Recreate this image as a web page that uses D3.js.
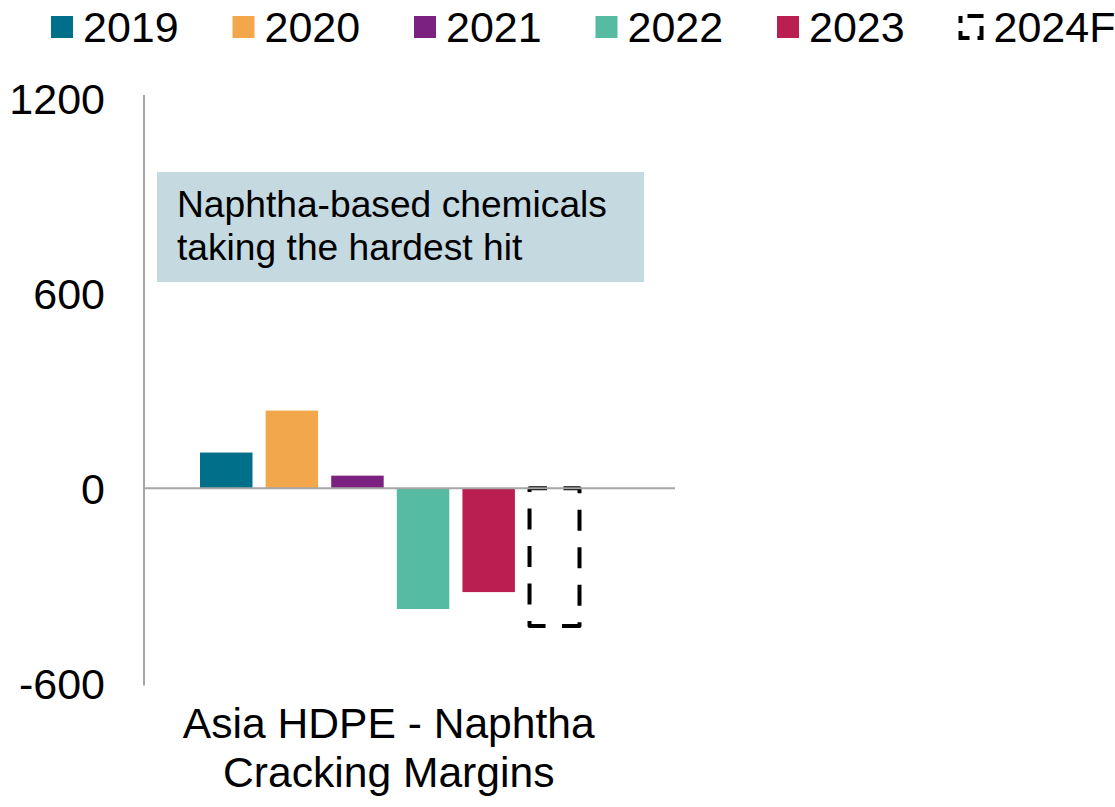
<!DOCTYPE html>
<html>
<head>
<meta charset="utf-8">
<script src="https://cdn.jsdelivr.net/npm/d3@7"></script>
<style>
  html, body { margin: 0; padding: 0; background: #fff; }
  svg { display: block; }
  text { font-family: "Liberation Sans", Arial, sans-serif; fill: #000; }
</style>
</head>
<body>
<div id="chart"></div>
<script>
// Chart data
const categoryLines = ["Asia HDPE - Naphtha", "Cracking Margins"];
const seriesNames = ["2019", "2020", "2021", "2022", "2023", "2024F"];
const seriesValues = [110, 239, 39, -371, -319, -429];
const seriesColors = ["#006f8a", "#f2a74b", "#7b2280", "#55bba1", "#bb1f51", "none"];
const forecastSeries = "2024F";
const yTickValues = [-600, 0, 600, 1200];
const noteLines = ["Naphtha-based chemicals", "taking the hardest hit"];

const W = 1115, H = 807;
const plot = { left: 144, right: 675, top: 98, bottom: 683.5 };

const svg = d3.select("#chart").append("svg")
  .attr("width", W).attr("height", H);

const y = d3.scaleLinear().domain([-600, 1200]).range([plot.bottom, plot.top]);
const x = d3.scaleBand().domain(seriesNames).range([200, 580.5])
  .paddingInner(0.2).paddingOuter(0);
const color = d3.scaleOrdinal().domain(seriesNames).range(seriesColors);

// Annotation box
const note = svg.append("g");
note.append("rect")
  .attr("x", 157).attr("y", 172).attr("width", 487).attr("height", 110)
  .attr("fill", "#c5dae0");
note.selectAll("text").data(noteLines).join("text")
  .attr("x", 177).attr("y", (d, i) => 217 + i * 43)
  .attr("font-size", 37.2)
  .text(d => d);

// Y axis: labels only, with vertical axis line
const yAxis = d3.axisLeft(y).tickValues(yTickValues).tickSize(0).tickPadding(0)
  .tickFormat(d => String(d));
const yg = svg.append("g").attr("transform", `translate(105,0)`).call(yAxis);
yg.select(".domain").remove();
yg.selectAll("text")
  .attr("font-size", 43)
  .attr("font-family", "'Liberation Sans', Arial, sans-serif")
  .attr("fill", "#000")
  .attr("dy", "0.36em");

svg.append("line")
  .attr("x1", plot.left).attr("x2", plot.left)
  .attr("y1", plot.top - 3).attr("y2", plot.bottom + 2)
  .attr("stroke", "#a6a6a6").attr("stroke-width", 2);

// Bars
const solid = seriesNames.map((s, i) => ({ s, v: seriesValues[i] }))
  .filter(d => d.s !== forecastSeries);
svg.append("g").selectAll("rect").data(solid).join("rect")
  .attr("x", d => x(d.s))
  .attr("width", x.bandwidth())
  .attr("y", d => y(Math.max(0, d.v)))
  .attr("height", d => Math.abs(y(d.v) - y(0)))
  .attr("fill", d => color(d.s));

// Forecast bar, dashed outline
const fIdx = seriesNames.indexOf(forecastSeries);
const fv = seriesValues[fIdx];
const fx0 = x(forecastSeries) + 1.5, fx1 = x(forecastSeries) + x.bandwidth() - 1;
const fy0 = y(Math.max(0, fv)), fy1 = y(Math.min(0, fv)) - 2;
const fp = d3.path();
fp.moveTo(fx0, fy0); fp.lineTo(fx1, fy0); fp.lineTo(fx1, fy1); fp.lineTo(fx0, fy1); fp.closePath();
svg.append("path")
  .attr("d", fp.toString())
  .attr("fill", "none").attr("stroke", "#000").attr("stroke-width", 4)
  .attr("stroke-dasharray", "21 16.5").attr("stroke-dashoffset", 3.5)
  .attr("stroke-linejoin", "round");

// Zero line
svg.append("line")
  .attr("x1", plot.left).attr("x2", plot.right)
  .attr("y1", y(0)).attr("y2", y(0))
  .attr("stroke", "#a6a6a6").attr("stroke-width", 2);

// Category label
svg.append("g").selectAll("text").data(categoryLines).join("text")
  .attr("x", (x.range()[0] + x.range()[1]) / 2 - 1.5)
  .attr("y", (d, i) => 737.5 + i * 49.5)
  .attr("text-anchor", "middle")
  .attr("font-size", 42.6)
  .text(d => d);

// Legend
const legend = svg.append("g").selectAll("g").data(seriesNames).join("g")
  .attr("transform", (d, i) => `translate(${51 + i * 181.5},0)`);
legend.filter(d => d !== forecastSeries).append("rect")
  .attr("x", 0).attr("y", 16).attr("width", 22).attr("height", 22)
  .attr("fill", d => color(d));
legend.filter(d => d === forecastSeries).append("rect")
  .attr("x", 2).attr("y", 16).attr("width", 21).attr("height", 22)
  .attr("fill", "none").attr("stroke", "#000").attr("stroke-width", 4)
  .attr("stroke-dasharray", "16 8").attr("stroke-dashoffset", -7);
legend.append("text")
  .attr("x", d => d === forecastSeries ? 35 : 32)
  .attr("y", 41.5)
  .attr("font-size", 43)
  .text(d => d);
</script>
</body>
</html>
